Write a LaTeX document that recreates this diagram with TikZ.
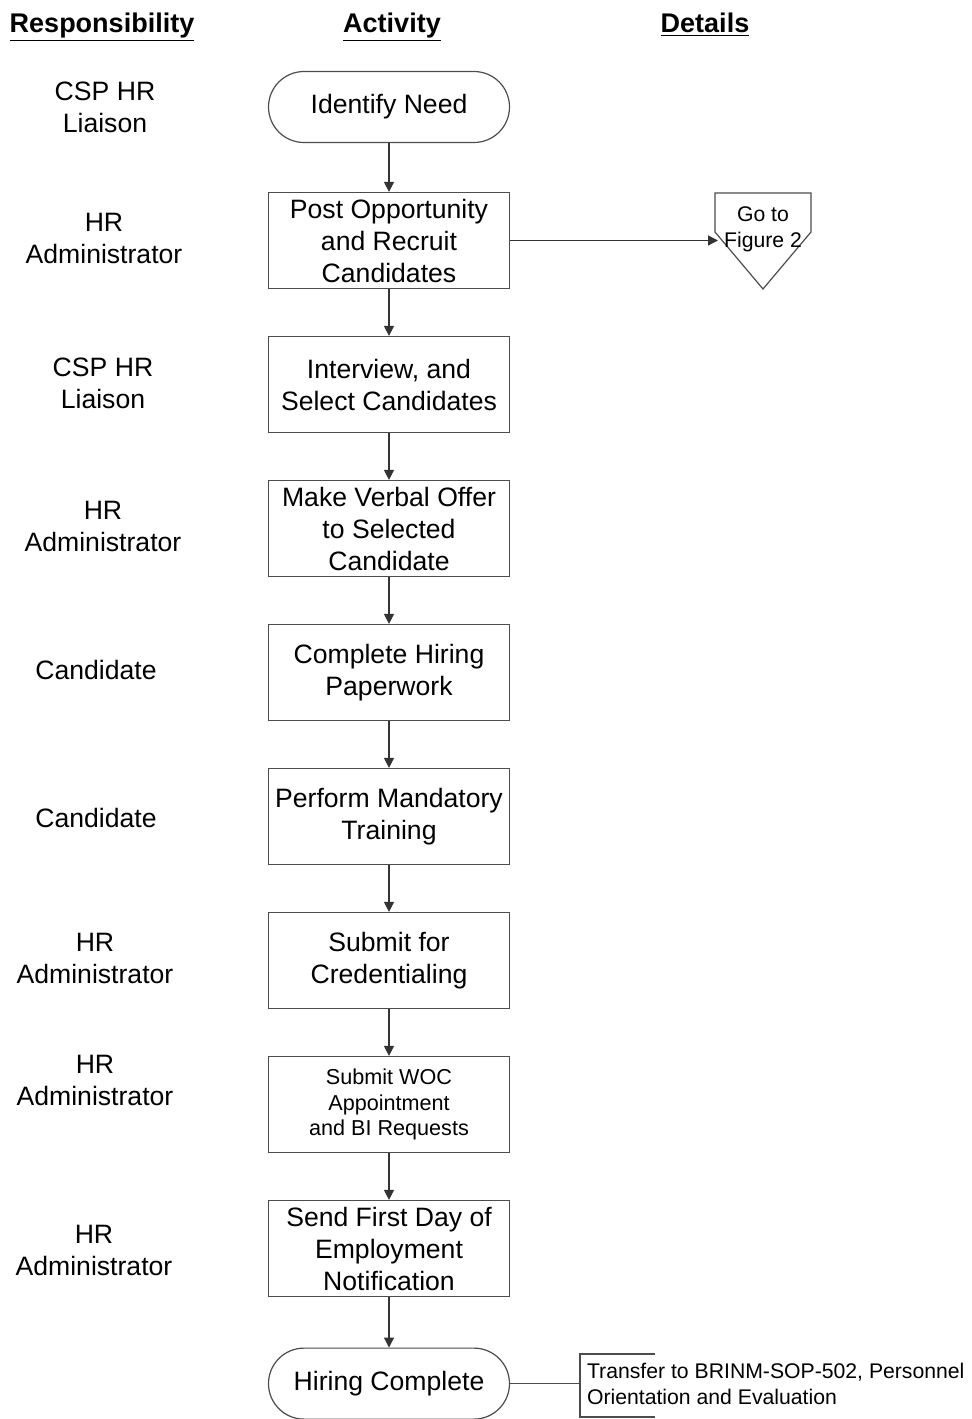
\documentclass[tikz,border=0pt]{standalone}
\usepackage{fontspec}
\setmainfont{Liberation Sans}
\usetikzlibrary{arrows.meta,positioning}

\begin{document}
\begin{tikzpicture}[x=0.5pt, y=-0.5pt,
    activity/.style={rectangle, draw=black!70, line width=0.6pt, minimum width=120.5pt, minimum height=48pt, align=center, inner xsep=1pt, inner ysep=0pt, font=\fontsize{13.3}{16}\selectfont},
    terminal/.style={activity, rounded corners=17.75pt, minimum height=35.5pt},
    role/.style={align=center, font=\fontsize{13.3}{16}\selectfont},
    header/.style={anchor=base, font=\fontsize{13.5}{16}\selectfont\bfseries},
    small/.style={align=center, font=\fontsize{10.6}{13}\selectfont},
    arrow/.style={-{Triangle[length=5pt,width=5pt]}, line width=0.6pt, draw=black!80},
    node distance=23.4pt
  ]
    \useasboundingbox (0,0) rectangle (971,1419);

    % column headers
    \node[header] (hresp) at (102,32) {\underline{Responsibility}};
    \node[header] (hact) at (392,32) {\underline{Activity}};
    \node[header] (hdet) at (705,32) {\underline{Details}};

    % activities
    \node[terminal] (need) at (389,107) {Identify Need};
    \node[activity, below=24.4pt of need] (post) {Post Opportunity\\and Recruit\\Candidates};
    \node[activity, below=of post] (interview) {Interview, and\\Select Candidates};
    \node[activity, below=of interview] (offer) {Make Verbal Offer\\to Selected\\Candidate};
    \node[activity, below=of offer] (paperwork) {Complete Hiring\\Paperwork};
    \node[activity, below=of paperwork] (training) {Perform Mandatory\\Training};
    \node[activity, below=of training] (cred) {Submit for\\Credentialing};
    \node[activity, below=of cred, font=\fontsize{10.8}{12.8}\selectfont] (woc) {Submit WOC\\Appointment\\and BI Requests};
    \node[activity, below=of woc] (firstday) {Send First Day of\\Employment\\Notification};
    \node[terminal, below=25.2pt of firstday] (complete) {Hiring Complete};

    % responsibilities
    \node[role] (r1) at (105,107) {CSP HR\\Liaison};
    \node[role] (r2) at (104,238) {HR\\Administrator};
    \node[role] (r3) at (103,383) {CSP HR\\Liaison};
    \node[role] (r4) at (103,526) {HR\\Administrator};
    \node[role] (r5) at (96,670) {Candidate};
    \node[role] (r6) at (96,818) {Candidate};
    \node[role] (r7) at (95,958) {HR\\Administrator};
    \node[role] (r8) at (95,1080) {HR\\Administrator};
    \node[role] (r9) at (94,1250) {HR\\Administrator};

    \foreach \a/\b in {need/post, post/interview, interview/offer, offer/paperwork,
                       paperwork/training, training/cred, cred/woc, woc/firstday, firstday/complete}
      \draw[arrow] (\a) -- (\b);

    % off-page connector
    \draw[draw=black!70, line width=0.6pt] (715,193) -- (811,193) -- (811,232) -- (763,289) -- (715,232) -- cycle;
    \node[small] (goto) at (763,229) {Go to\\Figure 2};
    \coordinate (gotoin) at (718,241);
    \draw[arrow] (post.east) -- (post.east -| gotoin);

    % transfer note
    \coordinate (bracket) at (580,1384);
    \draw[draw=black!70, line width=0.6pt] (complete.east) -- (complete.east -| bracket);
    \draw[draw=black!70, line width=0.6pt] (655,1354) -- (580,1354) -- (580,1417) -- (655,1417);
    \node[small, align=left, anchor=west] (transfer) at (580,1384) {Transfer to BRINM-SOP-502, Personnel\\Orientation and Evaluation};
  \end{tikzpicture}
\end{document}
